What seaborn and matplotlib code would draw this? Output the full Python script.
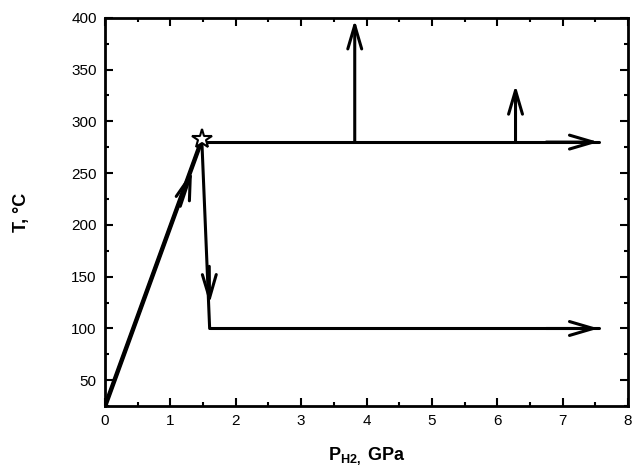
import pandas as pd
import matplotlib
matplotlib.use("Agg")
import matplotlib.pyplot as plt
from matplotlib.ticker import MultipleLocator
import seaborn as sns

sns.set_style("ticks", {'text.color': 'black', 'axes.labelcolor': 'black',
                        'xtick.color': 'black', 'ytick.color': 'black',
                        'axes.edgecolor': 'black'})
plt.rcParams['font.family'] = ['Liberation Sans', 'DejaVu Sans']
plt.rcParams['mathtext.default'] = 'regular'

# path segments (P in GPa, T in C)
heat_p = [0, 1.48]
heat_t = [25, 282]
cool_p = [1.48, 1.6, 1.6]
cool_t = [282, 100, 100]
hold_hi_p = [1.48, 7.55]
hold_hi_t = [280, 280]
hold_lo_p = [1.6, 7.55]
hold_lo_t = [100, 100]
star_p, star_t = 1.48, 283
# vertical branches from the 280 C line
branch_p = [3.82, 6.28]
branch_top = [398, 335]
branch_base = 280
# mid-segment arrow heads: (tail, tip)
mid_arrows = [((1.15, 218), (1.33, 252)), ((1.594, 160), (1.598, 124))]

fig = plt.figure(figsize=(6.33, 4.69), dpi=100)
ax = fig.add_axes([0.166, 0.134, 0.826, 0.828])

lw = 2.2
for xs, ys in [(heat_p, heat_t), (cool_p, cool_t), (hold_hi_p, hold_hi_t), (hold_lo_p, hold_lo_t)]:
    df = pd.DataFrame({'P': xs, 'T': ys})
    sns.lineplot(data=df, x='P', y='T', sort=False, color='black', lw=lw, ax=ax, estimator=None)
# heating line looks doubled in the original
ax.plot(heat_p, heat_t, color='black', lw=3.2)

arrow_kw = dict(arrowstyle='->,head_length=1.7,head_width=0.5', color='black', lw=lw,
                shrinkA=0, shrinkB=0)
# end arrows of horizontal lines
for xs, ys in [(hold_hi_p, hold_hi_t), (hold_lo_p, hold_lo_t)]:
    ax.annotate('', xy=(xs[-1], ys[-1]), xytext=(xs[-1] - 0.8, ys[-1]), arrowprops=arrow_kw)
# vertical arrows
for p, top in zip(branch_p, branch_top):
    ax.annotate('', xy=(p, top), xytext=(p, branch_base), arrowprops=arrow_kw)
for tail, tip in mid_arrows:
    ax.annotate('', xy=tip, xytext=tail, arrowprops=arrow_kw)

ax.plot([star_p], [star_t], marker='*', ms=15, mfc='white', mec='black', mew=1.5, zorder=5)

ax.set_xlim(0, 8)
ax.set_ylim(25, 400)
ax.xaxis.set_major_locator(MultipleLocator(1))
ax.xaxis.set_minor_locator(MultipleLocator(0.5))
ax.yaxis.set_major_locator(MultipleLocator(50))
ax.yaxis.set_minor_locator(MultipleLocator(25))
ax.set_yticks([50, 100, 150, 200, 250, 300, 350, 400])
ax.tick_params(which='both', direction='in', top=True, right=True, width=1.5, labelsize=11,
               colors='black')
ax.tick_params(which='major', length=6, pad=6)
ax.tick_params(which='minor', length=3)
for s in ax.spines.values():
    s.set_linewidth(2)
    s.set_visible(True)
    s.set_color('black')

ax.set_xlabel(r'P$_{H2,}$ GPa', fontsize=13, fontweight='bold', labelpad=12, color='black')
ax.set_ylabel('T, °C', fontsize=13, fontweight='bold', labelpad=30, color='black')

plt.savefig('out.png', dpi=100)
